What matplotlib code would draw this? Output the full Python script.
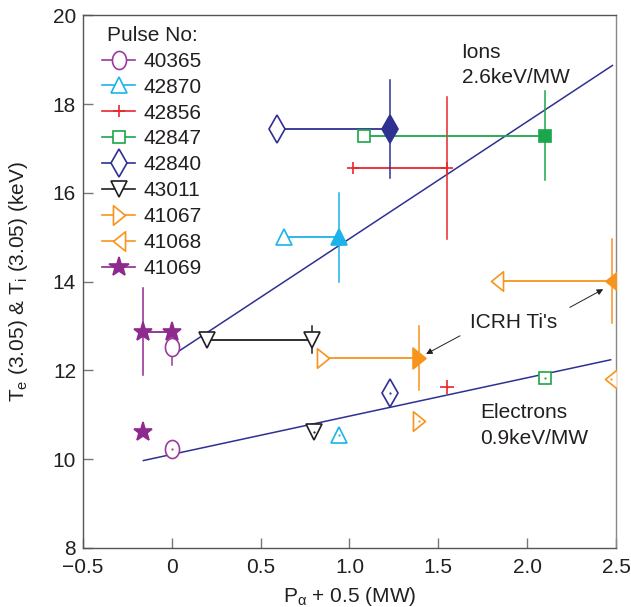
import numpy as np
import matplotlib
matplotlib.use("Agg")
import matplotlib.pyplot as plt
from matplotlib.lines import Line2D
from matplotlib.path import Path

plt.rcParams['font.family'] = ['Liberation Sans', 'DejaVu Sans']
plt.rcParams['mathtext.default'] = 'regular'

# pulses, in legend order
pulses = ['40365', '42870', '42856', '42847', '42840', '43011', '41067', '41068', '41069']
colors = ['#9b3ba0', '#1cb3ea', '#e8282d', '#1ca64b', '#2e3192', '#231f20',
          '#f7941d', '#f7941d', '#8e2a8e']

# ion temperatures: first marker -> second marker, error bar at err_x
ion_x_open = [0.0, 0.63, 1.02, 1.08, 0.59, 0.20, 0.85, 1.83, -0.16]
ion_x_fill = [None, 0.94, 1.55, 2.10, 1.23, 0.79, 1.39, 2.48, 0.0]
second_filled = [False, True, True, True, True, False, True, True, True]
ion_y = [12.52, 15.00, 16.56, 17.29, 17.44, 12.69, 12.29, 14.01, 12.87]
ion_err_x = [0.0, 0.94, 1.55, 2.10, 1.23, 0.79, 1.39, 2.48, -0.16]
ion_err = [0.40, 1.00, 1.60, 1.00, 1.10, 0.30, 0.72, 0.94, 0.98]

# electron temperatures
ele_x = [0.0, 0.94, 1.55, 2.10, 1.23, 0.80, 1.39, 2.47, -0.16]
ele_y = [10.23, 10.55, 11.62, 11.82, 11.49, 10.61, 10.85, 11.80, 10.61]

# fitted lines
ion_fit_x = [0.0, 2.48]
ion_fit_y = [12.33, 18.87]
ele_fit_x = [-0.16, 2.47]
ele_fit_y = [9.97, 12.24]

xticks = [-0.5, 0, 0.5, 1.0, 1.5, 2.0, 2.5]
xtick_labels = ['\u22120.5', '0', '0.5', '1.0', '1.5', '2.0', '2.5']
yticks = [8, 10, 12, 14, 16, 18, 20]

# custom marker shapes: tall ellipse, narrow side-pointing triangles
t = np.linspace(0, 2 * np.pi, 60)
ellipse = Path(np.column_stack([0.78 * np.cos(t), np.sin(t)]))
tri_right = Path([(-0.62, 1), (0.62, 0), (-0.62, -1), (-0.62, 1)], closed=True)
tri_left = Path([(0.62, 1), (-0.62, 0), (0.62, -1), (0.62, 1)], closed=True)

markers = [ellipse, '^', '+', 's', 'd', 'v', tri_right, tri_left, '*']
sizes = [13, 11, 9, 8, 14, 11, 14, 14, 14]
ele_sizes = [13, 11, 10, 8, 14, 11, 14, 14, 14]
fill_sizes = [13, 11, 9, 9, 14, 11, 15, 15, 14]

fig = plt.figure(figsize=(6.31, 6.07), dpi=100)
ax = fig.add_axes([0.1315, 0.0972, 0.8447, 0.8776])

ax.plot(ion_fit_x, ion_fit_y, color='#2e3192', lw=1.1, zorder=1)
ax.plot(ele_fit_x, ele_fit_y, color='#2e3192', lw=1.1, zorder=1)

for i, p in enumerate(pulses):
    c = colors[i]
    m = markers[i]
    solid = (p == '41069') or (m == '+')
    mfc = c if solid else 'white'
    # error bar
    ax.plot([ion_err_x[i], ion_err_x[i]], [ion_y[i] - ion_err[i], ion_y[i] + ion_err[i]],
            color=c, lw=1.1, zorder=2)
    # connecting line and second marker
    if ion_x_fill[i] is not None:
        ax.plot([ion_x_open[i], ion_x_fill[i]], [ion_y[i], ion_y[i]], color=c, lw=1.3, zorder=2)
        ax.plot(ion_x_fill[i], ion_y[i], marker=m, ms=fill_sizes[i], color=c,
                mfc=c if second_filled[i] else 'white', mew=1.2, ls='none', zorder=4)
    ax.plot(ion_x_open[i], ion_y[i], marker=m, ms=sizes[i], color=c,
            mfc=mfc, mew=1.2, ls='none', zorder=4)
    # electrons
    ax.plot(ele_x[i], ele_y[i], marker=m, ms=ele_sizes[i], color=c,
            mfc=mfc, mew=1.2, ls='none', zorder=4)
    if p != '41069':
        ax.plot(ele_x[i], ele_y[i], marker='.', ms=1.2, color=c, ls='none', zorder=5)

ax.set_xlim(-0.5, 2.5)
ax.set_ylim(8, 20)
ax.set_xticks(xticks)
ax.set_xticklabels(xtick_labels)
ax.set_yticks(yticks)
ax.tick_params(direction='in', length=7.5, width=1, color='#777777',
               labelsize=15, labelcolor='#231f20')
ax.tick_params(axis='x', pad=7)
ax.tick_params(axis='y', pad=5)
for s in ax.spines.values():
    s.set_color('#555555')
    s.set_linewidth(1)
ax.spines['right'].set_color('#888888')

ax.set_xlabel(r'P$_\alpha$ + 0.5 (MW)', fontsize=15, color='#231f20', labelpad=6)
ax.set_ylabel('T$_e$ (3.05) & T$_i$ (3.05) (keV)', fontsize=15, color='#231f20', labelpad=16)

ax.text(1.631, 19.16, 'Ions', fontsize=15, va='center', ha='left', color='#231f20')
ax.text(1.631, 18.60, '2.6keV/MW', fontsize=15, va='center', ha='left', color='#231f20')
ax.text(1.736, 11.06, 'Electrons', fontsize=15, va='center', ha='left', color='#231f20')
ax.text(1.736, 10.46, '0.9keV/MW', fontsize=15, va='center', ha='left', color='#231f20')
ax.text(1.678, 13.09, "ICRH Ti's", fontsize=15, va='center', ha='left', color='#231f20')

arrow = dict(arrowstyle='-|>', lw=0.7, color='#231f20', shrinkA=0, shrinkB=0,
             mutation_scale=9)
ax.annotate('', xy=(1.431, 12.37), xytext=(1.622, 12.78), arrowprops=arrow)
ax.annotate('', xy=(2.428, 13.83), xytext=(2.24, 13.42), arrowprops=arrow)

handles = []
for i, p in enumerate(pulses):
    mfc = colors[i] if (p == '41069' or markers[i] == '+') else 'white'
    handles.append(Line2D([0], [0], color=colors[i], lw=1.2, marker=markers[i],
                          ms=sizes[i] if p != '41069' else 15, mfc=mfc, mew=1.2))
leg = ax.legend(handles, pulses, title='Pulse No:', loc='upper left',
                bbox_to_anchor=(0.036, 0.98), frameon=False, fontsize=15,
                title_fontsize=15, handlelength=1.6, handletextpad=0.4,
                labelspacing=0.33, borderaxespad=0, borderpad=0)
for txt in leg.get_texts():
    txt.set_color('#231f20')
leg.get_title().set_color('#231f20')

fig.savefig('out.png', dpi=100)
